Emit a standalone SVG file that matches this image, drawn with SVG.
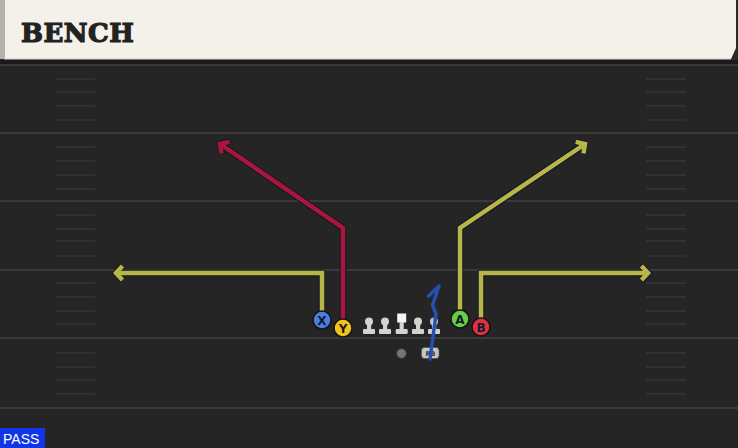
<svg xmlns="http://www.w3.org/2000/svg" width="738" height="448" viewBox="0 0 738 448">
<defs>
<style>
.yard{stroke:#3a3a3a;stroke-width:2}
.hash{stroke:#353535;stroke-width:1.5}
.out{fill:none;stroke:#161628;stroke-width:6.5;stroke-linejoin:miter;stroke-linecap:butt}
.yel{fill:none;stroke:#b7b748;stroke-width:4.5;stroke-linejoin:miter;stroke-linecap:butt}
.red{fill:none;stroke:#a8173a;stroke-width:4.5;stroke-linejoin:miter;stroke-linecap:butt}
.blue{fill:none;stroke:#2450b0;stroke-width:3.5;stroke-linejoin:round;stroke-linecap:round}
.pc{stroke:#151515;stroke-width:1.5}
.pl{font-family:"DejaVu Sans","Liberation Sans",sans-serif;font-weight:bold;font-size:12px;fill:#141a30;text-anchor:middle}
.ol{fill:#d2d2d2}
</style>
<marker id="ao" markerUnits="userSpaceOnUse" markerWidth="24" markerHeight="24" refX="12" refY="12" orient="auto" overflow="visible">
<path d="M5.5,5 L12,12 L5.5,19" fill="none" stroke="#161628" stroke-width="6.5" stroke-linejoin="miter"/>
</marker>
<marker id="ay" markerUnits="userSpaceOnUse" markerWidth="24" markerHeight="24" refX="12" refY="12" orient="auto" overflow="visible">
<path d="M5.5,5 L12,12 L5.5,19" fill="none" stroke="#b7b748" stroke-width="4.5" stroke-linejoin="miter"/>
</marker>
<marker id="ar" markerUnits="userSpaceOnUse" markerWidth="24" markerHeight="24" refX="12" refY="12" orient="auto" overflow="visible">
<path d="M5.5,5 L12,12 L5.5,19" fill="none" stroke="#a8173a" stroke-width="4.5" stroke-linejoin="miter"/>
</marker>
</defs>
<rect x="0" y="0" width="738" height="448" fill="#252525"/>
<g id="field">
<rect x="0" y="59" width="738" height="5" fill="#1a1a1a"/>
<line class="yard" x1="0" y1="65" x2="738" y2="65"/>
<line class="yard" x1="0" y1="133" x2="738" y2="133"/>
<line class="yard" x1="0" y1="201" x2="738" y2="201"/>
<line class="yard" x1="0" y1="270" x2="738" y2="270"/>
<line class="yard" x1="0" y1="338" x2="738" y2="338"/>
<line class="yard" x1="0" y1="408" x2="738" y2="408"/>
<g id="hash-left">
<path class="hash" d="M56,79H95M56,92H95M56,106H95M56,120H95M56,147H95M56,161H95M56,175H95M56,189H95M56,215H95M56,229H95M56,241H95M56,256H95M56,283H95M56,297H95M56,311H95M56,324H95M56,353H95M56,367H95M56,380H95M56,394H95"/>
</g>
<g id="hash-right">
<path class="hash" d="M646,79H686M646,92H686M646,106H686M646,120H686M646,147H686M646,161H686M646,175H686M646,189H686M646,215H686M646,229H686M646,241H686M646,256H686M646,283H686M646,297H686M646,311H686M646,324H686M646,353H686M646,367H686M646,380H686M646,394H686"/>
</g>
</g>
<g id="title">
<rect x="0" y="0" width="738" height="60" fill="#2a2a2a"/>
<polygon points="4,0 736,0 736,48 731,59 4,59" fill="#f4f1ea"/>
<rect x="0" y="0" width="5" height="59" fill="#b2b1aa"/>
<line x1="4" y1="59" x2="731" y2="59" stroke="#cfcbc2" stroke-width="1"/>
<text x="21" y="42" font-family="'DejaVu Serif','Liberation Serif',serif" font-weight="bold" font-size="26" letter-spacing="0.5" fill="#222222" stroke="#222222" stroke-width="1.2" stroke-linejoin="miter">BENCH</text>
</g>
<g id="connectors">
<g id="route-x">
<path class="out" d="M322,320 V273 H116" marker-end="url(#ao)"/>
<path class="yel" d="M322,320 V273 H116" marker-end="url(#ay)"/>
</g>
<g id="route-y">
<path class="out" d="M343,328 V228 L220,144" marker-end="url(#ao)"/>
<path class="red" d="M343,328 V228 L220,144" marker-end="url(#ar)"/>
</g>
<g id="route-a">
<path class="out" d="M460,319 V228 L585,144" marker-end="url(#ao)"/>
<path class="yel" d="M460,319 V228 L585,144" marker-end="url(#ay)"/>
</g>
<g id="route-b">
<path class="out" d="M481,327 V273 H648" marker-end="url(#ao)"/>
<path class="yel" d="M481,327 V273 H648" marker-end="url(#ay)"/>
</g>
</g>
<g id="line">
<g id="lt"><circle class="ol" cx="369" cy="321.5" r="4"/><rect class="ol" x="367" y="321" width="4.2" height="9"/><rect class="ol" x="363" y="329" width="12" height="5" rx="1"/></g>
<g id="lg"><circle class="ol" cx="385" cy="321.5" r="4"/><rect class="ol" x="383" y="321" width="4.2" height="9"/><rect class="ol" x="379" y="329" width="12" height="5" rx="1"/></g>
<g id="c"><rect x="397.2" y="313.5" width="9" height="9" fill="#f4f4f4"/><rect class="ol" x="399.6" y="322" width="4.2" height="8"/><rect class="ol" x="395.7" y="329" width="12" height="5" rx="1"/></g>
<g id="rg"><circle class="ol" cx="418" cy="321.5" r="4"/><rect class="ol" x="416" y="321" width="4.2" height="9"/><rect class="ol" x="412" y="329" width="12" height="5" rx="1"/></g>
<g id="rt"><circle cx="434" cy="321.5" r="4" fill="#b8c0d6"/><rect class="ol" x="432" y="321" width="4.2" height="9"/><rect class="ol" x="428" y="329" width="12" height="5" rx="1"/></g>
</g>
<g id="qb"><circle cx="401.5" cy="353.5" r="4.8" fill="#767676" stroke="#3c3c3c" stroke-width="1"/></g>
<g id="rb">
<rect x="421.5" y="347.5" width="17.5" height="11" rx="3" fill="#c6c6c6" stroke="#555" stroke-width="0.8"/>
<text x="430.5" y="356" font-family="'DejaVu Sans','Liberation Sans',sans-serif" font-weight="bold" font-size="6.5" fill="#333" text-anchor="middle">RB</text>
</g>
<g id="route-rb">
<path class="blue" d="M430,359 L436,314 L432.5,305 L439,286 L428.5,296"/>
</g>
<g id="player-x"><circle class="pc" cx="322" cy="320" r="9" fill="#4b7fdf"/><text class="pl" x="322" y="324.5">X</text></g>
<g id="player-y"><circle class="pc" cx="343" cy="328" r="9" fill="#f2c41a"/><text class="pl" x="343" y="332.5">Y</text></g>
<g id="player-a"><circle class="pc" cx="460" cy="319" r="9" fill="#68d042"/><text class="pl" x="460" y="323.5">A</text></g>
<g id="player-b"><circle class="pc" cx="481" cy="327" r="9" fill="#e4303e"/><text class="pl" x="481" y="331.5">B</text></g>
<g id="pass">
<rect x="0" y="428" width="45" height="20" fill="#1236e6"/>
<text x="3" y="444" font-family="'Liberation Sans',Arial,sans-serif" font-size="14" fill="#ffffff">PASS</text>
</g>
</svg>
